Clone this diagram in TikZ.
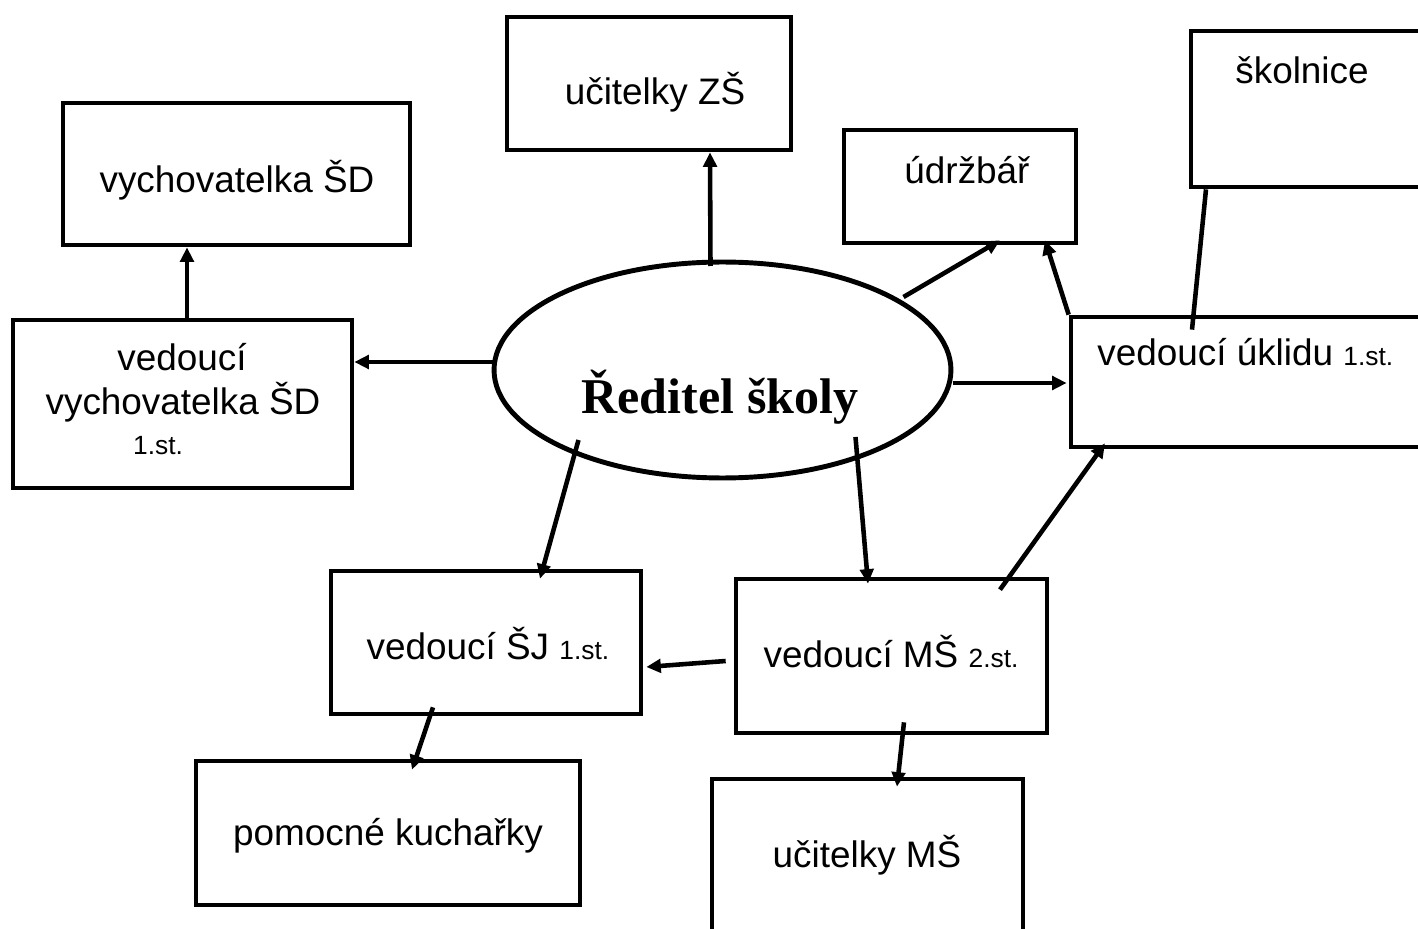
\documentclass[tikz,border=0pt]{standalone}
\usepackage{fontspec}
\setmainfont{Liberation Sans}
\newfontfamily\titlefont{Liberation Serif}
\usetikzlibrary{arrows.meta,shapes.geometric}
\tikzset{
  box/.style={draw, line width=2.7pt, inner sep=0pt},
  lbl/.style={inner sep=0pt, font=\fontsize{21}{25.6}\selectfont, align=center},
  arr/.style={line width=2.6pt, -{Triangle[length=0.29cm,width=0.27cm]}},
  ln/.style={line width=2.6pt},
}
\newcommand{\sm}[1]{{\fontsize{15}{18}\selectfont #1}}
\begin{document}
\begin{tikzpicture}[x=0.02cm,y=-0.02cm]
\useasboundingbox (0,0) rectangle (1418,929);
\clip (0,0) rectangle (1418,929);
% boxes
\node[box, minimum width=5.68cm, minimum height=2.66cm] (zs) at (649,83.5) {};
\node[box, minimum width=6.94cm, minimum height=2.84cm] (sd) at (236.5,174) {};
\node[box, minimum width=4.64cm, minimum height=2.26cm] (udr) at (960,186.5) {};
\node[box, minimum width=4.96cm, minimum height=3.12cm] (skol) at (1315,109) {};
\node[box, minimum width=6.78cm, minimum height=3.36cm] (vsd) at (182.5,404) {};
\node[box, minimum width=7.36cm, minimum height=2.60cm] (ukl) at (1255,382) {};
\node[box, minimum width=6.20cm, minimum height=2.86cm] (sj) at (486,642.5) {};
\node[box, minimum width=6.22cm, minimum height=3.08cm] (ms) at (891.5,656) {};
\node[box, minimum width=7.68cm, minimum height=2.88cm] (kuch) at (388,833) {};
\node[box, minimum width=6.22cm, minimum height=3.64cm] (ums) at (867.5,870) {};
\node[draw, ellipse, line width=2.8pt, inner sep=0pt, minimum width=9.14cm, minimum height=4.32cm] (el) at (722.5,370) {};
% texts
\node[lbl] (tzs) at (655,92) {učitelky ZŠ};
\node[lbl] (tsd) at (237,180) {vychovatelka ŠD};
\node[lbl] (tudr) at (967,170) {údržbář};
\node[lbl] (tskol) at (1302,70) {školnice};
\node[lbl] (tvsd1) at (182,357) {vedoucí};
\node[lbl] (tvsd2) at (183,402) {vychovatelka ŠD};
\node[lbl, anchor=base] (tvsd3) at (158,455) {\sm{1.st.}};
\node[lbl, anchor=base west] (tukl) at (1097,366) {vedoucí úklidu \sm{1.st.}};
\node[lbl, anchor=base] (tsj) at (488,659) {vedoucí ŠJ \sm{1.st.}};
\node[lbl, anchor=base] (tms) at (891,667) {vedoucí MŠ \sm{2.st.}};
\node[lbl] (tkuch) at (388,836) {pomocné kuchařky};
\node[lbl] (tums) at (867,855) {učitelky MŠ};
\node[inner sep=0pt, font=\titlefont\bfseries\fontsize{28.5}{32}\selectfont] (title) at (720,397) {Ředitel školy};
% connectors
\draw[arr] ([shift={(-12,-104)}]el.center) -- ([shift={(61,0)}]zs.south);
\draw[arr] ([shift={(-228,-8)}]el.center) -- ([shift={(0,-42)}]vsd.east);
\draw[arr] ([shift={(4.5,0)}]vsd.north) -- ([shift={(-49.5,0)}]sd.south);
\draw[arr] ([shift={(181,-73)}]el.center) -- ([shift={(40,-5)}]udr.south);
\draw[arr] (ukl.north west) -- ([shift={(85,-5)}]udr.south);
\draw[arr] ([shift={(230,13)}]el.center) -- ([shift={(-2,1)}]ukl.west);
\draw[ln] ([shift={(-63,15)}]ukl.north) -- ([shift={(-109,0)}]skol.south);
\draw[arr] ([shift={(108.5,13)}]ms.north) -- ([shift={(-150,-6)}]ukl.south);
\draw[arr] ([shift={(-144,70)}]el.center) -- ([shift={(54,10)}]sj.north);
\draw[arr] ([shift={(133,67)}]el.center) -- ([shift={(-23.5,7)}]ms.north);
\draw[arr] ([shift={(-8,5)}]ms.west) -- ([shift={(3,24.5)}]sj.east);
\draw[arr] ([shift={(-53,-9)}]sj.south) -- ([shift={(24,11)}]kuch.north);
\draw[arr] ([shift={(12.5,-13)}]ms.south) -- ([shift={(29.5,10)}]ums.north);
\end{tikzpicture}
\end{document}
